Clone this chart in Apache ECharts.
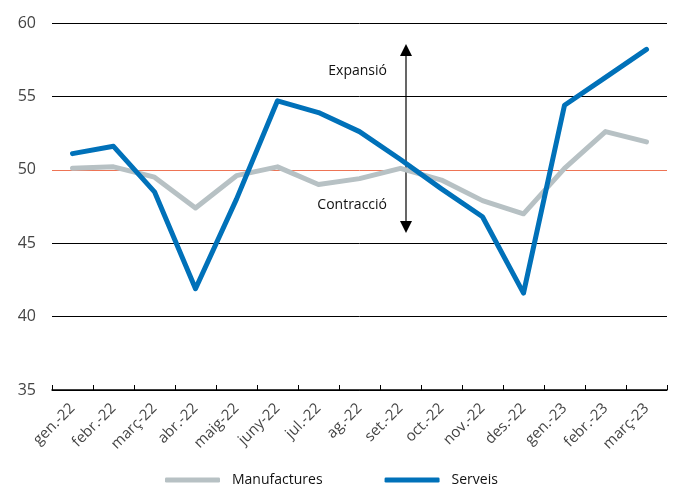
<!DOCTYPE html>
<html>
<head>
<meta charset="utf-8">
<script src="https://cdn.jsdelivr.net/npm/echarts@6/dist/echarts.min.js"></script>
<style>
  html, body { margin: 0; padding: 0; background: #fff; }
  #chart { width: 678px; height: 486px; }
</style>
</head>
<body>
<div id="chart"></div>
<script>
const months = ['gen.-22', 'febr.-22', 'març-22', 'abr.-22', 'maig-22', 'juny-22', 'jul.-22', 'ag.-22',
  'set.-22', 'oct.-22', 'nov.-22', 'des.-22', 'gen.-23', 'febr.-23', 'març-23']
const manufactures = [50.1, 50.2, 49.5, 47.4, 49.6, 50.2, 49.0, 49.4, 50.1, 49.3, 47.9, 47.0, 50.1, 52.6, 51.9]
const serveis = [51.1, 51.6, 48.5, 41.9, 48.0, 54.7, 53.9, 52.6, 50.7, 48.7, 46.8, 41.6, 54.4, 56.3, 58.2]
const yMin = 35
const yMax = 60
const yStep = 5

const font = '"Open Sans", "Noto Sans", sans-serif'
const chart = echarts.init(document.getElementById('chart'))

// fletxa doble d'expansió / contracció
const arrowX = 406
const annotation = [
  { type: 'line', shape: { x1: arrowX, y1: 54, x2: arrowX, y2: 223 }, style: { stroke: '#000', lineWidth: 1.2 } },
  { type: 'polygon', shape: { points: [[arrowX, 44], [arrowX - 6, 56], [arrowX + 6, 56]] }, style: { fill: '#000' } },
  { type: 'polygon', shape: { points: [[arrowX, 233], [arrowX - 6, 221], [arrowX + 6, 221]] }, style: { fill: '#000' } },
  { type: 'text', right: 678 - 387, top: 64, style: { text: 'Expansió', font: '14px ' + font, fill: '#111' } },
  { type: 'text', right: 678 - 387, top: 198, style: { text: 'Contracció', font: '14px ' + font, fill: '#111' } }
]

chart.setOption({
  animation: false,
  textStyle: { fontFamily: font },
  grid: { left: 52, right: 11, top: 23, bottom: 96 },
  legend: {
    top: 473,
    left: 165,
    padding: 0,
    itemWidth: 55,
    itemHeight: 5,
    itemGap: 62,
    icon: 'roundRect',
    textStyle: { fontSize: 14, color: '#111', fontFamily: font, padding: [0, 0, 0, 7] },
    data: ['Manufactures', 'Serveis']
  },
  xAxis: {
    type: 'category',
    data: months,
    boundaryGap: true,
    axisLine: { lineStyle: { color: '#000', width: 1.5 } },
    axisTick: { show: true, inside: true, length: 5, lineStyle: { color: '#000', width: 1 } },
    axisLabel: { rotate: 45, color: '#444', fontSize: 15, margin: 16, interval: 0 }
  },
  yAxis: {
    type: 'value',
    min: yMin,
    max: yMax,
    interval: yStep,
    axisLine: { show: false },
    axisTick: { show: false },
    axisLabel: { color: '#444', fontSize: 16, margin: 16 },
    splitLine: {
      lineStyle: { color: ['#000', '#000', '#000', '#ee7455', '#000', '#000'], width: 1 }
    }
  },
  series: [
    {
      name: 'Manufactures',
      type: 'line',
      data: manufactures,
      symbol: 'none',
      lineStyle: { color: '#b7c1c4', width: 5, cap: 'round', join: 'round' },
      itemStyle: { color: '#b7c1c4' }
    },
    {
      name: 'Serveis',
      type: 'line',
      data: serveis,
      symbol: 'none',
      lineStyle: { color: '#0071b9', width: 5, cap: 'round', join: 'round' },
      itemStyle: { color: '#0071b9' }
    }
  ],
  graphic: annotation
})
</script>
</body>
</html>
